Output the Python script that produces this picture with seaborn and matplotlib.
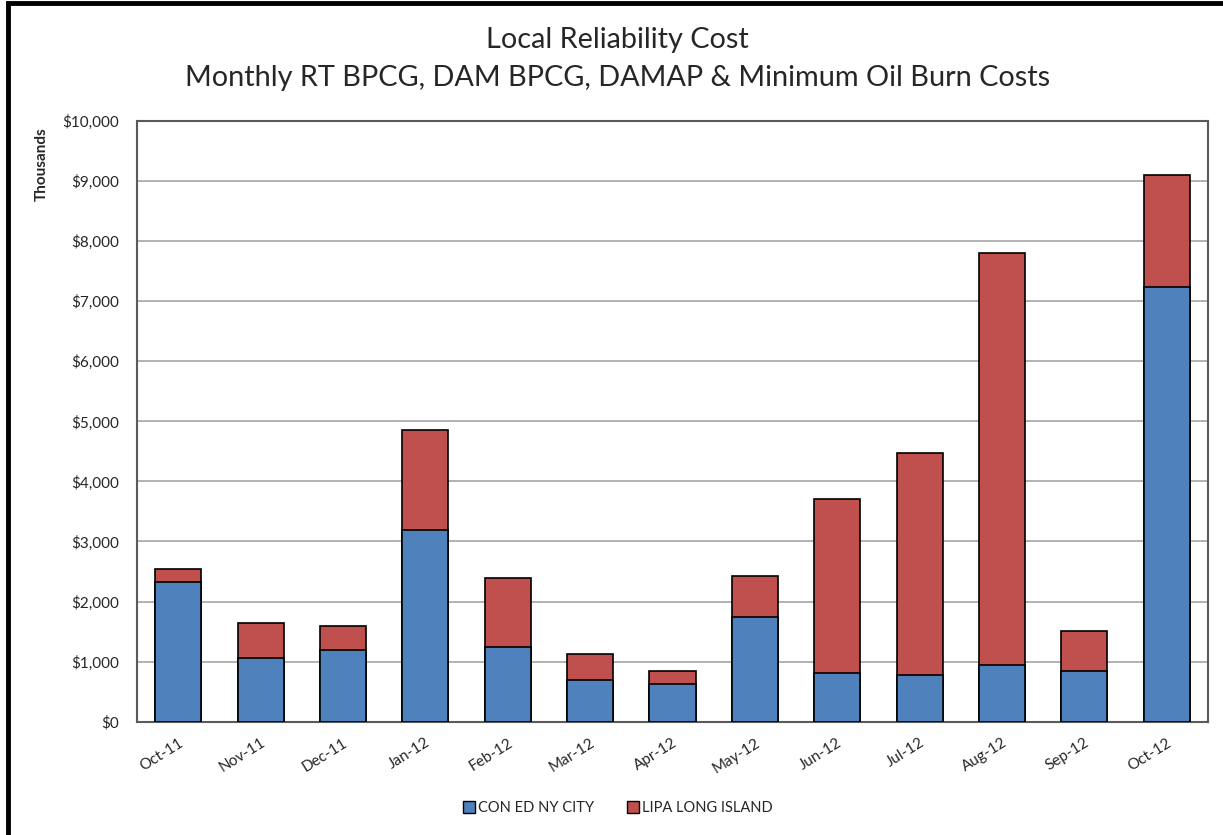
import matplotlib
matplotlib.use("Agg")
import matplotlib.pyplot as plt
import matplotlib.patches as mpatches
import seaborn as sns
import pandas as pd

months = ["Oct-11", "Nov-11", "Dec-11", "Jan-12", "Feb-12", "Mar-12", "Apr-12",
          "May-12", "Jun-12", "Jul-12", "Aug-12", "Sep-12", "Oct-12"]
con_ed = [2330, 1065, 1200, 3195, 1245, 695, 628, 1745, 805, 780, 940, 840, 7230]
lipa = [205, 585, 385, 1665, 1155, 433, 217, 680, 2900, 3695, 6870, 672, 1875]

blue = "#4F81BD"
red = "#C0504D"

df = pd.DataFrame({"month": months, "con_ed": con_ed, "lipa": lipa})
df["total"] = df["con_ed"] + df["lipa"]

sns.set_style("white")
plt.rcParams["font.family"] = ["Lato", "DejaVu Sans"]

fig = plt.figure(figsize=(12.23, 8.35), dpi=100)
ax = fig.add_axes([137 / 1223, 1 - 721.7 / 835, (1208 - 137) / 1223, (721.7 - 121) / 835])

# stacked bars: totals in red underneath, con ed in blue on top of it
sns.barplot(data=df, x="month", y="total", color=red, saturation=1, width=0.56,
            edgecolor="black", linewidth=1.2, ax=ax, zorder=3)
sns.barplot(data=df, x="month", y="con_ed", color=blue, saturation=1, width=0.56,
            edgecolor="black", linewidth=1.2, ax=ax, zorder=3)

ax.set_ylim(0, 10000)
ax.set_xlim(-0.5, len(months) - 0.5)
ax.set_yticks(range(0, 10001, 1000))
ax.set_yticklabels([f"${v:,}" for v in range(0, 10001, 1000)], fontsize=11)
ax.yaxis.grid(True, color="#a6a6a6", linewidth=1.2, zorder=0)
ax.set_axisbelow(True)
ax.tick_params(axis="both", length=0)
ax.tick_params(axis="y", pad=13)
ax.set_xticks(range(len(months)))
ax.set_xticklabels(months, rotation=32, ha="right", rotation_mode="anchor", fontsize=11)
ax.tick_params(axis="x", pad=10)
ax.set_xlabel("")
ax.set_ylabel("")
for s in ax.spines.values():
    s.set_color("#5a5a5a")
    s.set_linewidth(1.5)
    s.set_visible(True)

fig.text(617 / 1223, 1 - 40 / 835, "Local Reliability Cost", ha="center", va="center", fontsize=20.8)
fig.text(618 / 1223, 1 - 78 / 835, "Monthly RT BPCG, DAM BPCG, DAMAP & Minimum Oil Burn Costs",
         ha="center", va="center", fontsize=20.8)
fig.text(42 / 1223, 1 - 127 / 835, "Thousands", rotation=90, ha="center", va="top",
         fontsize=11, fontweight="bold")

handles = [mpatches.Patch(facecolor=blue, edgecolor="black", label="CON ED NY CITY"),
           mpatches.Patch(facecolor=red, edgecolor="black", label="LIPA LONG ISLAND")]
fig.legend(handles=handles, loc="center", bbox_to_anchor=(618 / 1223, 1 - 808 / 835),
           ncol=2, frameon=False, fontsize=10.5, handlelength=0.8, handleheight=0.8,
           handletextpad=0.2, columnspacing=2.3)

# thick outer frame on the left and top edges
fig.patches.append(mpatches.Rectangle((8 / 1223, -0.5), 2, 0.5 + 1 - 3 / 835, transform=fig.transFigure,
                                      fill=False, edgecolor="black", linewidth=3.5))

plt.savefig("out.png", dpi=100)
